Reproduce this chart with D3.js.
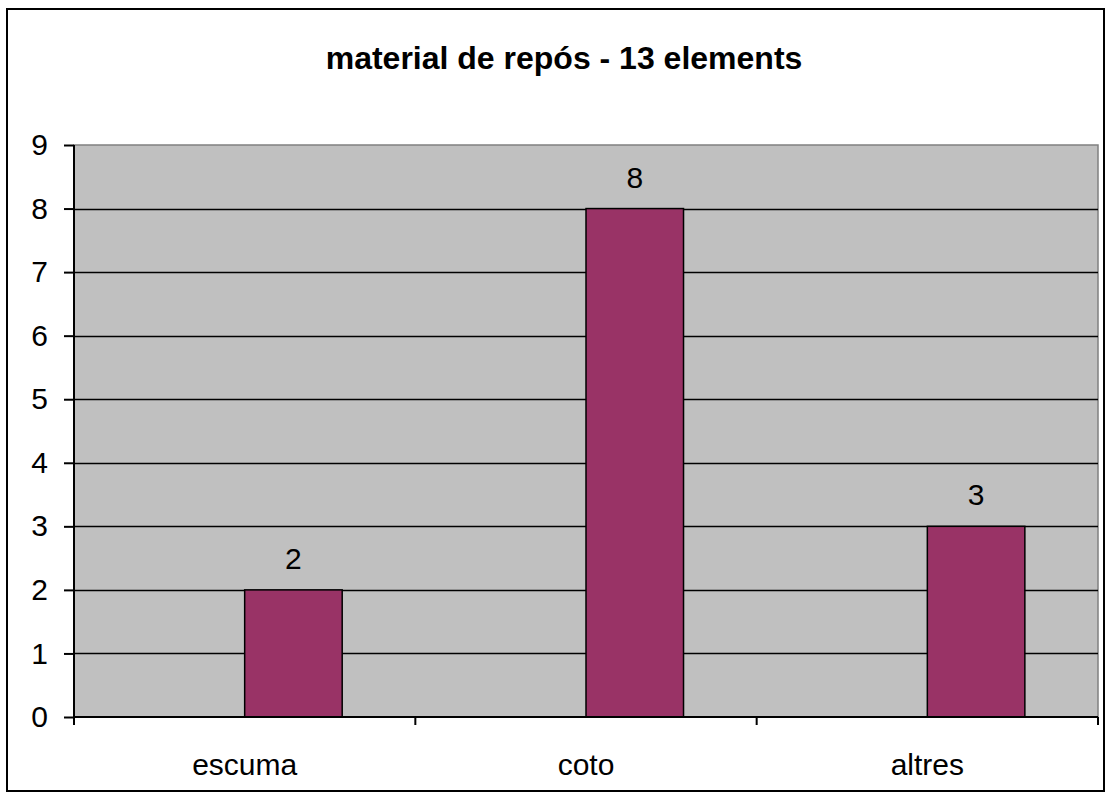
<!DOCTYPE html>
<html>
<head>
<meta charset="utf-8">
<script src="https://cdn.jsdelivr.net/npm/d3@7"></script>
<style>
  body { margin: 0; background: #fff; }
  svg text { font-family: Arial, "Liberation Sans", sans-serif; }
</style>
</head>
<body>
<div id="chart"></div>
<script>
// chart data
var categories = ["escuma", "coto", "altres"];
var values = [2, 8, 3];
var yTicks = [0, 1, 2, 3, 4, 5, 6, 7, 8, 9];
var title = "material de repós - 13 elements";

var width = 1113, height = 800;
var plotL = 74, plotR = 1098, plotT = 145, plotB = 717;

var svg = d3.select("#chart").append("svg")
    .attr("width", width)
    .attr("height", height);

// outer chart frame
svg.append("rect")
    .attr("x", 7).attr("y", 9)
    .attr("width", 1097).attr("height", 782)
    .attr("fill", "#fff")
    .attr("stroke", "#000")
    .attr("stroke-width", 2);

var x = d3.scaleBand()
    .domain(categories)
    .range([plotL, plotR])
    .paddingInner(0);

var y = d3.scaleLinear()
    .domain([0, 9])
    .range([plotB, plotT]);

// plot background
svg.append("rect")
    .attr("x", plotL).attr("y", plotT)
    .attr("width", plotR - plotL).attr("height", plotB - plotT)
    .attr("fill", "#c0c0c0")
    .attr("stroke", "#808080")
    .attr("stroke-width", 1.5);

// gridlines
svg.append("g")
    .selectAll("line")
    .data(yTicks.filter(function(d) { return d > 0 && d < 9; }))
    .enter()
    .append("line")
    .attr("x1", plotL).attr("x2", plotR)
    .attr("y1", function(d) { return Math.round(y(d)) + 0.5; })
    .attr("y2", function(d) { return Math.round(y(d)) + 0.5; })
    .attr("stroke", "#000")
    .attr("stroke-width", 1.5);

// bars start at the band centre in the original (shifted right)
var barW = x.bandwidth() / 3.5;
var barX = function(i) { return x(categories[i]) + x.bandwidth() / 2; };
svg.append("g")
    .selectAll("rect")
    .data(values)
    .enter()
    .append("rect")
    .attr("x", function(d, i) { return barX(i); })
    .attr("y", function(d) { return y(d); })
    .attr("width", barW)
    .attr("height", function(d) { return y(0) - y(d); })
    .attr("fill", "#993366")
    .attr("stroke", "#000")
    .attr("stroke-width", 1.5);

// data labels
svg.append("g")
    .selectAll("text")
    .data(values)
    .enter()
    .append("text")
    .attr("x", function(d, i) { return barX(i) + barW / 2; })
    .attr("y", function(d) { return y(d) - 21; })
    .attr("text-anchor", "middle")
    .attr("font-size", "30px")
    .attr("fill", "#000")
    .text(function(d) { return d; });

// y axis
var yAxis = d3.axisLeft(y).tickValues(yTicks).tickSize(10).tickPadding(16);
var gy = svg.append("g")
    .attr("transform", "translate(" + plotL + ",0)")
    .call(yAxis);
gy.select(".domain").attr("stroke", "#000").attr("stroke-width", 2).attr("d", "M0," + plotT + "V" + plotB);
gy.selectAll(".tick line").attr("stroke", "#000").attr("stroke-width", 2);
gy.selectAll(".tick text")
    .attr("font-size", "30px")
    .attr("fill", "#000")
    .attr("font-family", "Arial, 'Liberation Sans', sans-serif");

// x axis
var gx = svg.append("g")
    .attr("transform", "translate(0," + plotB + ")");
gx.append("line")
    .attr("x1", plotL).attr("x2", plotR)
    .attr("y1", 0).attr("y2", 0)
    .attr("stroke", "#000").attr("stroke-width", 2);
gx.selectAll("line.tick")
    .data([0, 1, 2, 3])
    .enter()
    .append("line")
    .attr("class", "tick")
    .attr("x1", function(d) { return plotL + d * x.bandwidth(); })
    .attr("x2", function(d) { return plotL + d * x.bandwidth(); })
    .attr("y1", 0).attr("y2", 8)
    .attr("stroke", "#000").attr("stroke-width", 2);
gx.selectAll("text")
    .data(categories)
    .enter()
    .append("text")
    .attr("x", function(d) { return x(d) + x.bandwidth() / 2; })
    .attr("y", 58)
    .attr("text-anchor", "middle")
    .attr("font-size", "30px")
    .attr("fill", "#000")
    .text(function(d) { return d; });

// title
svg.append("text")
    .attr("x", 564)
    .attr("y", 69)
    .attr("text-anchor", "middle")
    .attr("font-size", "32px")
    .attr("font-weight", "bold")
    .attr("fill", "#000")
    .text(title);
</script>
</body>
</html>
